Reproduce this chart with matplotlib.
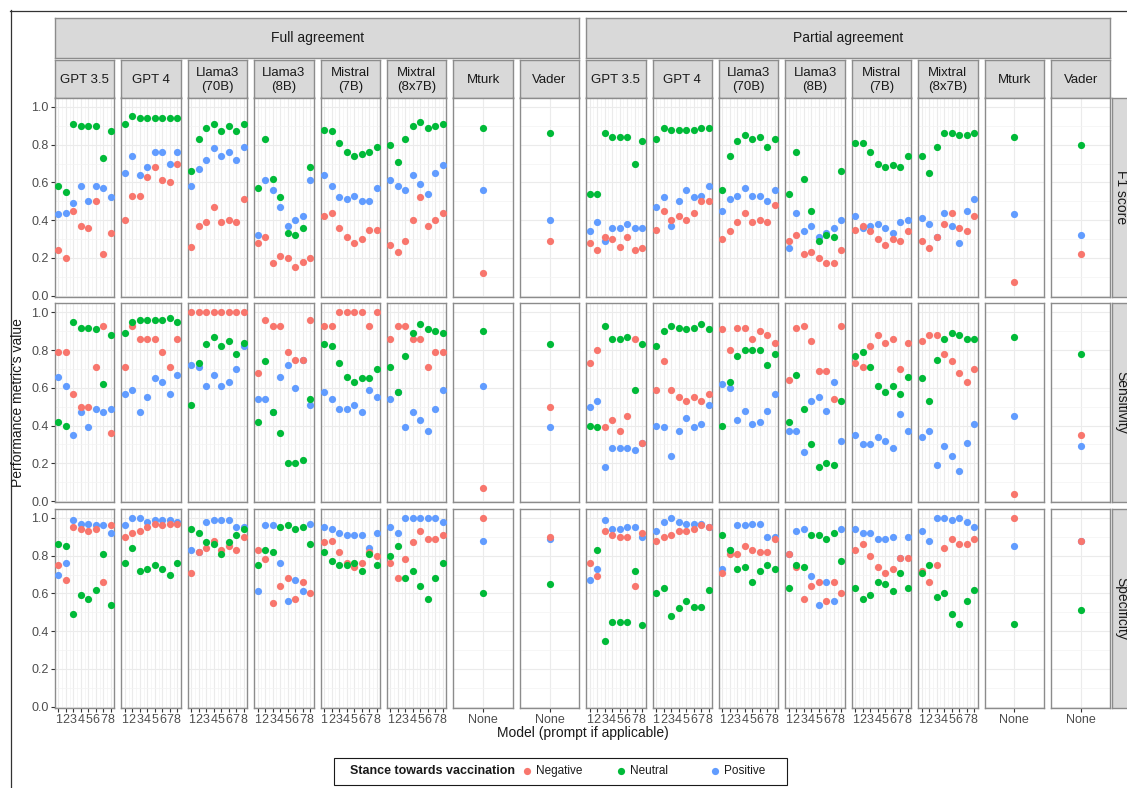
import numpy as np
import matplotlib

matplotlib.use("Agg")
import matplotlib.pyplot as plt
from matplotlib.patches import Rectangle
from matplotlib.lines import Line2D

nan = np.nan

MODELS = ["GPT 3.5", "GPT 4", "Llama3\n(70B)", "Llama3\n(8B)", "Mistral\n(7B)", "Mixtral\n(8x7B)"]
BASELINES = ["Mturk", "Vader"]
AGREEMENTS = ["Full agreement", "Partial agreement"]
METRICS = ["F1 score", "Sensitivity", "Specificity"]
STANCES = ["Negative", "Neutral", "Positive"]
PROMPTS = [1, 2, 3, 4, 5, 6, 7, 8]

# rows follow MODELS, columns follow PROMPTS
FULL_F1_NEG = [
    [0.24, 0.20, 0.45, 0.37, 0.36, 0.50, 0.22, 0.33],
    [0.40, 0.53, 0.53, 0.63, 0.68, 0.61, 0.60, 0.70],
    [0.26, 0.37, 0.39, 0.47, 0.39, 0.40, 0.39, 0.51],
    [0.28, 0.31, 0.17, 0.21, 0.20, 0.15, 0.18, 0.20],
    [0.42, 0.44, 0.36, 0.31, 0.28, 0.30, 0.35, 0.35],
    [0.27, 0.23, 0.29, 0.40, 0.52, 0.37, 0.40, 0.44],
]
FULL_F1_NEU = [
    [0.58, 0.55, 0.91, 0.90, 0.90, 0.90, 0.73, 0.87],
    [0.91, 0.95, 0.94, 0.94, 0.94, 0.94, 0.94, 0.94],
    [0.66, 0.83, 0.89, 0.91, 0.87, 0.90, 0.87, 0.91],
    [0.57, 0.83, 0.62, 0.52, 0.33, 0.32, 0.36, 0.68],
    [0.88, 0.87, 0.81, 0.76, 0.74, 0.75, 0.76, 0.79],
    [0.80, 0.71, 0.83, 0.90, 0.92, 0.89, 0.90, 0.91],
]
FULL_F1_POS = [
    [0.43, 0.44, 0.49, 0.58, 0.50, 0.58, 0.57, 0.52],
    [0.65, 0.74, 0.64, 0.68, 0.76, 0.76, 0.70, 0.76],
    [0.58, 0.67, 0.72, 0.78, 0.74, 0.76, 0.72, 0.79],
    [0.32, 0.61, 0.56, 0.47, 0.37, 0.40, 0.42, 0.61],
    [0.64, 0.58, 0.52, 0.51, 0.53, 0.50, 0.50, 0.57],
    [0.61, 0.58, 0.56, 0.64, 0.59, 0.54, 0.65, 0.69],
]
FULL_SENS_NEG = [
    [0.79, 0.79, 0.57, 0.50, 0.50, 0.71, 0.93, 0.36],
    [0.71, 0.93, 0.86, 0.86, 0.86, 0.79, 0.71, 0.86],
    [1.00, 1.00, 1.00, 1.00, 1.00, 1.00, 1.00, 1.00],
    [0.68, 0.96, 0.93, 0.93, 0.79, 0.75, 0.75, 0.96],
    [0.93, 0.93, 1.00, 1.00, 1.00, 1.00, 0.93, 1.00],
    [0.86, 0.93, 0.93, 0.86, 0.86, 0.71, 0.79, 0.79],
]
FULL_SENS_NEU = [
    [0.42, 0.40, 0.95, 0.92, 0.92, 0.91, 0.62, 0.88],
    [0.89, 0.95, 0.96, 0.96, 0.96, 0.96, 0.97, 0.95],
    [0.51, 0.73, 0.83, 0.87, 0.82, 0.85, 0.78, 0.84],
    [0.42, 0.74, 0.47, 0.36, 0.20, 0.20, 0.22, 0.54],
    [0.83, 0.82, 0.73, 0.66, 0.63, 0.65, 0.65, 0.70],
    [0.71, 0.58, 0.77, 0.89, 0.94, 0.91, 0.90, 0.89],
]
FULL_SENS_POS = [
    [0.66, 0.61, 0.35, 0.47, 0.39, 0.49, 0.47, 0.49],
    [0.57, 0.59, 0.47, 0.55, 0.65, 0.63, 0.57, 0.67],
    [0.72, 0.71, 0.61, 0.67, 0.61, 0.63, 0.70, 0.82],
    [0.54, 0.54, 0.47, 0.66, 0.72, 0.60, 0.75, 0.51],
    [0.58, 0.54, 0.49, 0.49, 0.51, 0.47, 0.59, 0.55],
    [0.54, 0.58, 0.39, 0.47, 0.43, 0.37, 0.49, 0.59],
]
FULL_SPEC_NEG = [
    [0.75, 0.67, 0.95, 0.94, 0.93, 0.94, 0.66, 0.96],
    [0.90, 0.92, 0.93, 0.95, 0.97, 0.96, 0.97, 0.97],
    [0.71, 0.82, 0.84, 0.88, 0.83, 0.85, 0.83, 0.90],
    [0.83, 0.78, 0.55, 0.64, 0.68, 0.57, 0.66, 0.60],
    [0.87, 0.88, 0.82, 0.76, 0.74, 0.76, 0.82, 0.80],
    [0.76, 0.68, 0.78, 0.87, 0.93, 0.89, 0.89, 0.91],
]
FULL_SPEC_NEU = [
    [0.86, 0.85, 0.49, 0.59, 0.57, 0.62, 0.81, 0.54],
    [0.76, 0.84, 0.72, 0.73, 0.75, 0.73, 0.70, 0.76],
    [0.94, 0.92, 0.87, 0.86, 0.81, 0.87, 0.91, 0.94],
    [0.75, 0.83, 0.82, 0.95, 0.96, 0.94, 0.95, 0.86],
    [0.82, 0.77, 0.75, 0.75, 0.76, 0.72, 0.81, 0.75],
    [0.80, 0.85, 0.68, 0.72, 0.64, 0.57, 0.68, 0.76],
]
FULL_SPEC_POS = [
    [0.70, 0.76, 0.99, 0.97, 0.97, 0.96, 0.96, 0.92],
    [0.96, 1.00, 1.00, 0.98, 0.99, 0.99, 0.99, 0.98],
    [0.83, 0.82, 0.98, 0.99, 0.99, 0.99, 0.95, 0.95],
    [0.61, 0.96, 0.96, 0.76, 0.56, 0.67, 0.61, 0.97],
    [0.95, 0.94, 0.92, 0.91, 0.91, 0.91, 0.84, 0.92],
    [0.95, 0.92, 1.00, 1.00, 1.00, 1.00, 1.00, 0.98],
]

PART_F1_NEG = [
    [0.28, 0.24, 0.31, 0.30, 0.26, 0.31, 0.24, 0.25],
    [0.35, 0.45, 0.40, 0.42, 0.40, 0.44, 0.50, 0.50],
    [0.30, 0.34, 0.39, 0.44, 0.39, 0.40, 0.39, 0.48],
    [0.29, 0.32, 0.22, 0.23, 0.20, 0.17, 0.17, 0.24],
    [0.35, 0.37, 0.34, 0.30, 0.27, 0.30, 0.29, 0.34],
    [0.29, 0.25, 0.31, 0.38, 0.44, 0.36, 0.34, 0.42],
]
PART_F1_NEU = [
    [0.54, 0.54, 0.86, 0.84, 0.84, 0.84, 0.70, 0.82],
    [0.83, 0.89, 0.88, 0.88, 0.88, 0.88, 0.89, 0.89],
    [0.56, 0.74, 0.82, 0.85, 0.83, 0.84, 0.79, 0.83],
    [0.54, 0.76, 0.62, 0.45, 0.29, 0.32, 0.31, 0.66],
    [0.81, 0.81, 0.76, 0.70, 0.68, 0.69, 0.68, 0.74],
    [0.74, 0.65, 0.79, 0.86, 0.86, 0.85, 0.85, 0.86],
]
PART_F1_POS = [
    [0.34, 0.39, 0.29, 0.36, 0.36, 0.38, 0.36, 0.36],
    [0.47, 0.52, 0.37, 0.50, 0.56, 0.52, 0.53, 0.58],
    [0.45, 0.51, 0.53, 0.57, 0.53, 0.53, 0.50, 0.56],
    [0.25, 0.44, 0.34, 0.37, 0.31, 0.33, 0.36, 0.40],
    [0.42, 0.36, 0.37, 0.38, 0.36, 0.33, 0.39, 0.40],
    [0.41, 0.38, 0.31, 0.44, 0.37, 0.28, 0.45, 0.51],
]
PART_SENS_NEG = [
    [0.73, 0.80, 0.39, 0.43, 0.37, 0.45, 0.86, 0.31],
    [0.59, 0.74, 0.59, 0.55, 0.53, 0.55, 0.53, 0.57],
    [0.91, 0.80, 0.92, 0.92, 0.86, 0.90, 0.88, 0.84],
    [0.64, 0.92, 0.93, 0.85, 0.69, 0.69, 0.54, 0.93],
    [0.73, 0.71, 0.82, 0.88, 0.84, 0.86, 0.70, 0.84],
    [0.85, 0.88, 0.88, 0.78, 0.74, 0.68, 0.63, 0.70],
]
PART_SENS_NEU = [
    [0.40, 0.39, 0.93, 0.86, 0.86, 0.87, 0.59, 0.83],
    [0.82, 0.90, 0.93, 0.92, 0.91, 0.92, 0.94, 0.91],
    [0.40, 0.63, 0.77, 0.80, 0.80, 0.80, 0.72, 0.78],
    [0.42, 0.67, 0.49, 0.30, 0.18, 0.20, 0.19, 0.53],
    [0.77, 0.79, 0.71, 0.61, 0.58, 0.61, 0.57, 0.66],
    [0.65, 0.53, 0.75, 0.86, 0.89, 0.88, 0.86, 0.86],
]
PART_SENS_POS = [
    [0.50, 0.53, 0.18, 0.28, 0.28, 0.28, 0.27, 0.31],
    [0.40, 0.39, 0.24, 0.37, 0.44, 0.39, 0.41, 0.51],
    [0.62, 0.60, 0.43, 0.48, 0.41, 0.42, 0.48, 0.57],
    [0.37, 0.37, 0.26, 0.53, 0.55, 0.48, 0.63, 0.32],
    [0.35, 0.30, 0.30, 0.34, 0.32, 0.28, 0.46, 0.37],
    [0.34, 0.37, 0.19, 0.29, 0.24, 0.16, 0.31, 0.41],
]
PART_SPEC_NEG = [
    [0.76, 0.69, 0.93, 0.91, 0.90, 0.90, 0.64, 0.92],
    [0.88, 0.90, 0.91, 0.93, 0.93, 0.94, 0.96, 0.95],
    [0.71, 0.81, 0.81, 0.85, 0.83, 0.82, 0.82, 0.89],
    [0.81, 0.74, 0.57, 0.64, 0.66, 0.56, 0.66, 0.60],
    [0.83, 0.86, 0.80, 0.74, 0.71, 0.73, 0.79, 0.79],
    [0.72, 0.66, 0.75, 0.84, 0.89, 0.86, 0.86, 0.89],
]
PART_SPEC_NEU = [
    [nan, 0.83, 0.35, 0.45, 0.45, 0.45, 0.72, 0.43],
    [0.60, 0.63, 0.48, 0.52, 0.56, 0.53, 0.53, 0.62],
    [0.91, 0.83, 0.73, 0.74, 0.66, 0.72, 0.75, 0.73],
    [0.63, 0.75, 0.74, 0.91, 0.91, 0.89, 0.92, 0.77],
    [0.63, 0.57, 0.59, 0.66, 0.65, 0.61, 0.71, 0.63],
    [0.71, 0.75, 0.58, 0.60, 0.49, 0.44, 0.56, 0.62],
]
PART_SPEC_POS = [
    [0.67, 0.73, 0.99, 0.94, 0.94, 0.95, 0.95, 0.90],
    [0.93, 0.98, 1.00, 0.98, 0.97, 0.97, 0.97, 0.95],
    [0.73, 0.83, 0.96, 0.96, 0.97, 0.97, 0.90, 0.90],
    [0.81, 0.93, 0.94, 0.69, 0.54, 0.66, 0.56, 0.94],
    [0.94, 0.92, 0.92, 0.89, 0.89, 0.90, 0.79, 0.90],
    [0.93, 0.88, 1.00, 1.00, 0.99, 1.00, 0.98, 0.95],
]

# baselines: rows follow METRICS, columns follow STANCES
FULL_MTURK = [[0.12, 0.89, 0.56], [0.07, 0.90, 0.61], [1.00, 0.60, 0.88]]
FULL_VADER = [[0.29, 0.86, 0.40], [0.50, 0.83, 0.39], [0.90, 0.65, 0.89]]
PART_MTURK = [[0.07, 0.84, 0.43], [0.04, 0.87, 0.45], [1.00, 0.44, 0.85]]
PART_VADER = [[0.22, 0.80, 0.32], [0.35, 0.78, 0.29], [0.88, 0.51, 0.88]]

COLORS = {"Negative": "#F8766D", "Neutral": "#00BA38", "Positive": "#619CFF"}
DRAW_ORDER = ["Positive", "Negative", "Neutral"]

llm_values = {
    ("Full agreement", "F1 score"): [FULL_F1_NEG, FULL_F1_NEU, FULL_F1_POS],
    ("Full agreement", "Sensitivity"): [FULL_SENS_NEG, FULL_SENS_NEU, FULL_SENS_POS],
    ("Full agreement", "Specificity"): [FULL_SPEC_NEG, FULL_SPEC_NEU, FULL_SPEC_POS],
    ("Partial agreement", "F1 score"): [PART_F1_NEG, PART_F1_NEU, PART_F1_POS],
    ("Partial agreement", "Sensitivity"): [PART_SENS_NEG, PART_SENS_NEU, PART_SENS_POS],
    ("Partial agreement", "Specificity"): [PART_SPEC_NEG, PART_SPEC_NEU, PART_SPEC_POS],
}
baseline_values = {
    ("Full agreement", "Mturk"): FULL_MTURK,
    ("Full agreement", "Vader"): FULL_VADER,
    ("Partial agreement", "Mturk"): PART_MTURK,
    ("Partial agreement", "Vader"): PART_VADER,
}

plt.rcParams["font.family"] = ["Liberation Sans", "DejaVu Sans"]

W, H, DPI = 1127, 788, 100
fig = plt.figure(figsize=(W / DPI, H / DPI), dpi=DPI)
fig.patch.set_facecolor("white")


def add_px_axes(left, top, width, height):
    return fig.add_axes([left / W, 1 - (top + height) / H, width / W, height / H])


PANEL_W, GAP = 59.4, 7.0
LEFT0 = 55.0
ROW_TOPS = [97.5, 303.0, 508.5]
ROW_H = 199.0
BORDER = "#8C8C8C"
STRIP_FILL = "#D9D9D9"
TEXT = "#1A1A1A"


def strip(left, top, width, height, label, rotation=0, size=9.5, tx=0.5, ty=0.5):
    ax = add_px_axes(left, top, width, height)
    ax.set_xticks([])
    ax.set_yticks([])
    ax.set_facecolor(STRIP_FILL)
    for sp in ax.spines.values():
        sp.set_color(BORDER)
        sp.set_linewidth(1.0)
    ax.text(tx, ty, label, ha="center", va="center", rotation=rotation,
            fontsize=size, color=TEXT, linespacing=1.2, transform=ax.transAxes)
    return ax


def style_panel(ax, is_llm, show_y, show_x):
    ax.set_ylim(-0.005, 1.05)
    ax.set_yticks(np.arange(0, 1.01, 0.2))
    ax.set_yticks(np.arange(0.1, 1.0, 0.2), minor=True)
    if is_llm:
        ax.set_xlim(0.55, 8.45)
        ax.set_xticks(PROMPTS)
        ax.set_xticklabels([str(p) for p in PROMPTS])
        ax.set_xticks(np.arange(1.5, 8, 1.0), minor=True)
    else:
        ax.set_xlim(0.4, 1.6)
        ax.set_xticks([1])
        ax.set_xticklabels(["None"])
    ax.grid(which="major", color="#EBEBEB", linewidth=0.8)
    ax.grid(which="minor", color="#F3F3F3", linewidth=0.5)
    ax.set_axisbelow(True)
    for sp in ax.spines.values():
        sp.set_color(BORDER)
        sp.set_linewidth(1.0)
    ax.tick_params(which="major", length=3, width=0.8, color="#333333",
                   labelsize=9, labelcolor="#4D4D4D", pad=1.5)
    ax.tick_params(which="minor", length=0)
    ax.yaxis.set_major_formatter(matplotlib.ticker.FormatStrFormatter("%.1f"))
    if not show_y:
        ax.tick_params(axis="y", left=False, labelleft=False)
    if not show_x:
        ax.tick_params(axis="x", bottom=False, labelbottom=False)


col_names = MODELS + BASELINES
for g, agreement in enumerate(AGREEMENTS):
    group_left = LEFT0 + g * 8 * (PANEL_W + GAP)
    strip(group_left, 18.0, 8 * PANEL_W + 7 * GAP, 39.5, agreement, size=10)
    for m, name in enumerate(col_names):
        col = g * 8 + m
        left = LEFT0 + col * (PANEL_W + GAP)
        strip(left, 59.5, PANEL_W, 38.0, name, size=9.5, ty=0.47)
        for r, metric in enumerate(METRICS):
            ax = add_px_axes(left, ROW_TOPS[r], PANEL_W, ROW_H)
            is_llm = m < len(MODELS)
            style_panel(ax, is_llm, show_y=(col == 0), show_x=(r == 2))
            for stance in DRAW_ORDER:
                s_idx = STANCES.index(stance)
                if is_llm:
                    ys = llm_values[(agreement, metric)][s_idx][m]
                    xs = PROMPTS
                else:
                    ys = [baseline_values[(agreement, name)][r][s_idx]]
                    xs = [1]
                ax.scatter(xs, ys, s=27, color=COLORS[stance], linewidths=0, zorder=3)

for r, metric in enumerate(METRICS):
    strip(1111.5, ROW_TOPS[r], 26.0, ROW_H, metric, rotation=-90, size=10, tx=0.38)

fig.text(18 / W, 1 - 402.5 / H, "Performance metric's value", rotation=90,
         ha="center", va="center", fontsize=10, color=TEXT)
fig.text(582.5 / W, 1 - 733 / H, "Model (prompt if applicable)",
         ha="center", va="center", fontsize=10, color=TEXT)

# legend drawn by hand so the title sits to the left of the keys
leg = add_px_axes(333, 757, 454, 28)
leg.set_xlim(0, 454)
leg.set_ylim(0, 28)
leg.axis("off")
leg.add_patch(Rectangle((0.5, 0.5), 453, 27, fill=False, edgecolor="#1A1A1A",
                        linewidth=0.8, clip_on=False))
leg.text(17, 14, "Stance towards vaccination", fontsize=9, fontweight="bold",
         ha="left", va="center", color=TEXT)
for k, stance in enumerate(STANCES):
    kx = 194 + k * 94
    leg.scatter([kx], [14], s=27, color=COLORS[stance], linewidths=0)
    leg.text(kx + 9, 14, stance, fontsize=8.5, ha="left", va="center", color=TEXT)

# thin frame along the top and left edges of the picture
fig.add_artist(Line2D([10 / W, 1], [1 - 10.5 / H, 1 - 10.5 / H],
                      transform=fig.transFigure, color="#333333", linewidth=0.9))
fig.add_artist(Line2D([10.5 / W, 10.5 / W], [0, 1 - 10 / H],
                      transform=fig.transFigure, color="#333333", linewidth=0.9))

fig.savefig("out.png", dpi=DPI)
